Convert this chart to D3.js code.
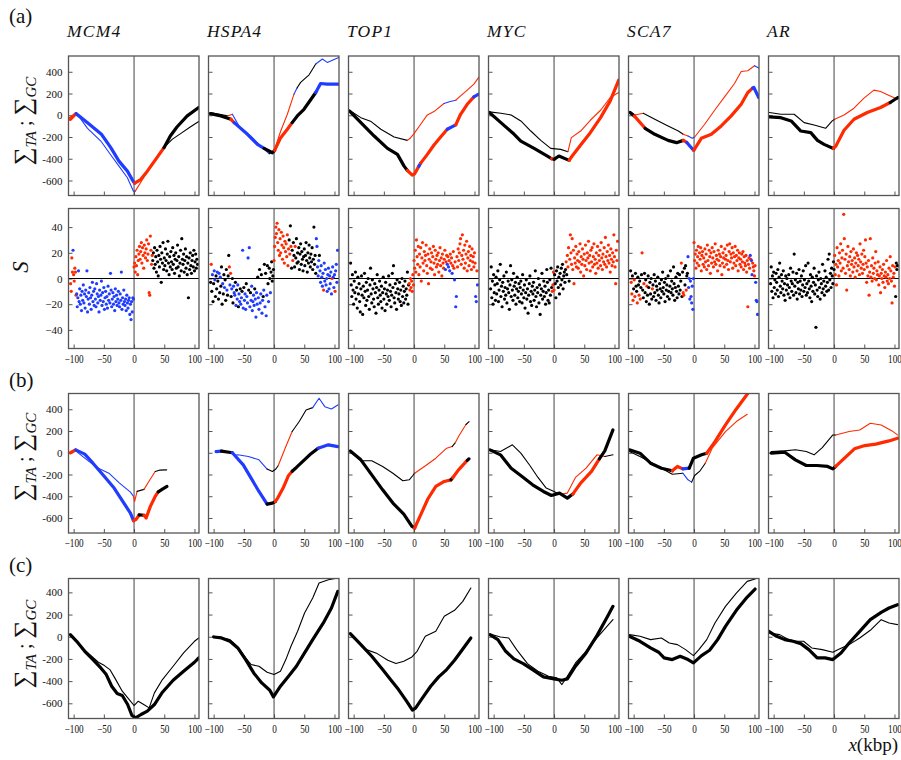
<!DOCTYPE html>
<html><head><meta charset="utf-8">
<script src="https://cdn.jsdelivr.net/npm/d3@7"></script>
<style>body{margin:0;background:#fff} svg text{font-family:"Liberation Serif","DejaVu Serif",serif}</style>
</head><body><svg id="c" width="901" height="760"></svg>
<script>
const genes = ["MCM4","HSPA4","TOP1","MYC","SCA7","AR"];
const rowTags = ["(a)","(b)","(c)"];
const xTicks = [-100,-50,0,50,100];
const xTickLabels = ["\u2212100","\u221250","0","50","100"];
const sumTicks = [-600,-400,-200,0,200,400];
const sumTickLabels = ["-600","-400","-200","0","200","400"];
const sTicks = [-40,-20,0,20,40];
const sTickLabels = ["\u221240","\u221220","0","20","40"];
const colorKeys = ["r","b","k"];
const colorVals = ["#ff2a00","#1f3cff","#000000"];

// ---------- (a) cumulative skews: [x kbp, value, class of following segment]
const a_MCM4_thick = [[-105.5,-37,"r"],[-96,15,"b"],[-77,-68,"b"],[-54,-175,"b"],[-38.5,-298,"b"],[-25,-422,"b"],[-11,-514,"b"],[-1,-612,"b"],[1,-625,"r"],[11,-591,"r"],[22,-514,"r"],[38.5,-385,"r"],[49.5,-298,"k"],[60,-191,"k"],[71,-108,"k"],[88,-6,"k"],[107,71,"k"]];
const a_MCM4_thin = [[-107,-22,"r"],[-96,25,"b"],[-77,-120,"b"],[-55,-237,"b"],[-38.5,-366,"b"],[-25,-468,"b"],[-11,-575,"b"],[-1,-698,"b"],[2,-698,"r"],[14,-591,"r"],[27,-468,"r"],[41,-360,"r"],[49.5,-298,"k"],[63,-222,"k"],[77,-169,"k"],[93,-108,"k"],[107,-58,"k"]];
const a_HSPA4_thick = [[-105.5,15,"k"],[-88,-6,"k"],[-71.4,-37,"r"],[-66,-68,"b"],[-44,-175,"b"],[-27.5,-268,"b"],[-16.5,-305,"k"],[-2.7,-345,"k"],[1,-323,"r"],[11,-206,"r"],[22,-129,"r"],[30,-68,"k"],[38.5,-6,"k"],[49.5,55,"k"],[60,138,"k"],[69,209,"b"],[77,292,"b"],[88,286,"b"],[107,286,"b"]];
const a_HSPA4_thin = [[-105.5,25,"k"],[-77,-6,"r"],[-69,9,"b"],[-55,-129,"b"],[-38.5,-191,"b"],[-22,-283,"b"],[-8,-354,"k"],[0,-329,"r"],[11,-145,"r"],[22,9,"r"],[33,194,"b"],[38,250,"k"],[44,302,"k"],[58,372,"k"],[69,471,"b"],[80,517,"b"],[88,486,"b"],[107,532,"b"]];
const a_TOP1_thick = [[-107,40,"k"],[-88,-68,"k"],[-66,-191,"k"],[-44,-305,"k"],[-27.5,-360,"k"],[-16.5,-468,"k"],[-11,-508,"r"],[-3,-551,"r"],[1,-538,"r"],[8,-468,"b"],[11,-440,"r"],[22,-360,"r"],[33,-274,"r"],[44,-200,"r"],[55,-129,"b"],[69,-89,"r"],[77,9,"r"],[88,101,"r"],[99,169,"b"],[107,194,"b"]];
const a_TOP1_thin = [[-107,46,"k"],[-88,-22,"k"],[-71,-58,"k"],[-55,-129,"k"],[-33,-200,"k"],[-11,-231,"r"],[-6.6,-212,"r"],[0,-169,"r"],[11,-83,"r"],[22,3,"r"],[33,34,"r"],[49.5,108,"b"],[60,126,"b"],[69,138,"r"],[77,178,"r"],[88,231,"r"],[99,286,"r"],[107,348,"r"]];
const a_MYC_thick = [[-107,25,"k"],[-88,-68,"k"],[-66,-175,"k"],[-55,-237,"k"],[-33,-305,"k"],[-11,-375,"k"],[-4,-400,"r"],[0,-406,"k"],[8,-375,"k"],[25,-415,"r"],[30,-375,"r"],[44,-274,"r"],[60,-160,"r"],[77,-22,"r"],[93,132,"r"],[107,323,"r"]];
const a_MYC_thin = [[-107,31,"k"],[-88,18,"k"],[-71,3,"k"],[-55,-52,"k"],[-38.5,-145,"k"],[-22,-231,"k"],[-5.5,-305,"k"],[11,-314,"k"],[23,-335,"r"],[28.6,-206,"r"],[44,-145,"r"],[60,-46,"r"],[77,46,"r"],[93,163,"r"],[107,209,"r"]];
const a_SCA7_thick = [[-106,25,"k"],[-99,-6,"r"],[-81,-120,"k"],[-65,-175,"k"],[-43,-231,"k"],[-29,-252,"k"],[-18,-231,"r"],[-12,-250,"b"],[-7,-283,"b"],[-0.5,-323,"r"],[12,-212,"r"],[28.6,-175,"r"],[45,-98,"r"],[61.5,-6,"r"],[78,101,"r"],[89,209,"r"],[97,250,"b"],[99,255,"b"],[107,163,"b"]];
const a_SCA7_thin = [[-106,34,"k"],[-98,3,"r"],[-84,18,"k"],[-65,-37,"k"],[-43,-98,"k"],[-26,-145,"k"],[-18,-175,"r"],[-10,-191,"b"],[-3,-212,"b"],[1,-200,"r"],[17.6,-83,"r"],[34,46,"r"],[50.5,169,"r"],[67,292,"r"],[78,403,"r"],[89,409,"r"],[100,455,"b"],[107,434,"b"]];
const a_AR_thick = [[-107,-15,"k"],[-88,-22,"k"],[-71,-52,"k"],[-55,-145,"k"],[-38.5,-160,"k"],[-27.5,-231,"k"],[-16.5,-268,"k"],[-1,-305,"r"],[3,-283,"r"],[16.5,-138,"r"],[33,-37,"r"],[55,25,"r"],[77,71,"r"],[93,117,"k"],[105.5,163,"k"]];
const a_AR_thin = [[-107,25,"k"],[-88,9,"k"],[-66,9,"k"],[-49.5,-68,"k"],[-33,-89,"k"],[-14,-120,"k"],[-3,-52,"k"],[1,-37,"r"],[16.5,3,"r"],[33,65,"r"],[49.5,157,"r"],[66,231,"r"],[77,218,"r"],[93,178,"r"],[105.5,148,"k"]];

// ---------- (a) skew S in 1-kbp windows, first window at x = -105
const sFirstWindow = -105;
const s_MCM4 = [-4,-10,16,5,22,3,-2,8,5,-13, -12,-22,-15,6,-18,-8,-20,-13,-25,-10, -17,-5,-19,-12,-23,-9,-14,6,-26,-16, -11,-20,-7,-15,-24,-13,-3,-18,-10,-21, -8,-16,-22,-4,-12,-19,-14,-26,-9,-17, -13,-2,-21,-11,-18,-7,-24,-15,-10,-20, -14,-23,-6,-17,-12,-19,4,-9,-22,-16, -11,-20,-14,-25,-8,-18,-13,-21,-16,-10, -19,-22,-12,-17,5,-24,-15,-20,-9,-18, -21,-16,-25,-13,-19,-23,-17,-15,-28,-20, -32,-18,-26,-15,-16,
 9,12,5,17,10,22,3,14,19,25, 15,21,28,12,24,18,8,26,20,16, 23,30,14,19,27,-11,-13,33,22,11,18,
 14,20,8,24,11,17,5,22,13,2, 18,9,25,15,-3,20,12,28,7,16, 10,23,14,6,19,29,12,3,17,9, 21,13,7,24,11,18,4,15,20,8, 14,26,9,17,2,12,22,6,31,15, 11,19,5,14,23,8,17,3,12,-15, 16,7,20,10,4,14,18,9,22,6, 13,19,8,15,11];
const c_MCM4 = "rrrrbrrrrr" + "b".repeat(95) + "r".repeat(31) + "k".repeat(75);
const s_HSPA4 = [-3,11,-10,3,-18,-4,6,-1,-14,2, -8,5,-2,-16,4,-11,1,-6,9,-20, -4,-12,3,-7,-1,-17,7,-9,-13,2, 18,9,-5,4,-14,-8,0,-19,-6,-11, -13,-3,-21,-9,-16,-5,-22,-12,-18,-8, -20,-15,-10,22,-23,-7,-17,-12,-24,-4, -14,-19,16,-9,24,-22,-11,-17,-6,-25, -18,-13,-21,-8,-16,-30,-11,-20,1,-15, -24,7,-19,-12,3,-27,-17,-14,-9,11, -22,4,-29,-13,10,-4,-18,8,0,-11, 5,13,-2,2,7,
 14,25,32,40,35,43,28,22,38,18, 31,20,36,26,15,33,24,12,29,21, 27,17,34,10,23,30,19,41,25,8, 22,14,28,18,9,25,16,31,12,20, 13,24,7,19,27,11,21,15,6,17, 23,10,18,28,14,5,20,12,26,16, 9,19,13,24,7,15,40,11,18,4, 31,25,9,2,14,18,6,-3,10,1, -6,4,-9,12,-2,7,-5,0,-10,3, 8,-8,2,-4,5,-12,0,9,1,-7, 3,-10,6,11,-3,22];
const c_HSPA4 = "krkbkkbbkk"+"kbkkbkbkkk"+"bkkbkkkbkk"+"krbrkbkkbb"+"bkbkbbkbbk"+"bbkbbkbbbk"+"bbbkbbkbbb"+"bbbkbbbbkb"+"bkbbkbbkbk"+"bkbbkkbkkb"+"kkkkk"
 + "r".repeat(20)+"rrrrrkrkrk"+"krkkkrkkkk"+"k".repeat(30)+"bbbbbkbbbb"+"bbrbbbbbbb"+"bbbbbbrbbb"+"brbbbb";
const s_TOP1 = [12,-5,-14,3,-9,-20,-2,-11,5,-16, -7,-23,1,-12,-4,-18,-26,-8,2,-13, -28,-6,-15,4,-10,-21,-3,-17,-9,0, -14,-24,-5,8,-12,-19,-1,-8,-16,-22, -4,-11,-27,-7,3,-15,-20,-9,-2,-13, -18,-6,-23,-11,1,-16,-8,-25,-3,-12, -20,-9,-14,2,-17,-5,-10,-22,-13,4, -7,10,-15,-19,-4,-11,-24,-1,-8,-16, -12,-3,-18,-9,-21,0,-14,-6,-19,-10, -2,-16,-8,-13,5,-20,-5,-4,-9,0, -7,-2,-10,3,-5,
 14,8,22,5,30,17,11,25,3,19, 9,24,-2,16,28,12,6,21,14,18, 26,10,4,19,-4,15,23,8,13,20, 7,17,25,12,3,22,15,9,18,11, 20,5,14,24,10,16,2,19,12,8, 15,22,7,13,18,11,17,9,14,6, 19,12,16,4,10,21,8,-1,13,-22, -14,17,9,23,14,20,27,31,11,18, 34,15,22,8,26,12,19,29,6,16, 21,10,25,14,18,7,23,13,17,9, 20,12,-14,-18,6,-5];
const c_TOP1 = "k".repeat(97)+"r".repeat(8)+"r".repeat(50)+"rrbrrbrbrb"+"rrrbrrrbrb"+"brrrrrrrrr"+"r".repeat(20)+"rrbbrb";
const s_MYC = [-8,9,-15,-2,-20,3,-11,-5,-17,1, -12,-4,6,-18,-9,-1,11,-14,-6,-22, -3,-10,2,-16,-7,-13,5,-19,-8,-2, -11,-24,-5,10,-14,-1,-9,-17,4,-6, -13,-3,-20,-8,1,-15,-10,-4,-18,-7, -2,-12,-19,3,-9,-15,-5,-23,-11,-1, -16,-8,-27,-13,-4,2,-18,-10,-21,-6, -12,-3,-17,-9,6,-14,-22,-7,-11,0, -19,-5,-28,-13,-8,4,-16,-10,-2,-14, -6,-20,-11,7,-3,-17,-9,-19,-1,-13, 8,-7,-10,-5,5,
 -9,3,-4,-15,6,-2,9,-7,1,-12, 4,-5,8,-1,11,-8,2,5,-3,7, 13,3,18,9,24,-2,15,34,20,11, 31,7,22,-4,16,12,25,9,19,14, 8,21,13,27,5,17,11,23,15,2, 19,10,26,14,7,20,16,29,12,18, 6,22,13,24,9,17,27,11,15,4, 20,12,25,8,18,14,22,10,28,16, 7,19,13,24,11,32,17,9,21,14, 26,12,18,5,23,15,10,20,13,34, 17,9,-4,22,14,29];
const c_MYC = "k".repeat(102)+"rrr"+"rkkkkkkkkk"+"k".repeat(10)+"rkrrrkrrrr"+"r".repeat(76);
const s_SCA7 = [6,-3,-12,2,-17,-8,-1,-14,4,-6, -10,-19,1,-5,-13,-2,-16,-7,3,20, -9,-15,-4,4,-11,-1,-18,-6,-13,2, -7,-20,-3,-12,0,-16,-8,-5,-14,3, -11,-2,-17,-6,-9,1,-13,-19,-4,-8, -15,-1,-10,5,-7,-12,-3,-18,0,-9, -5,-14,2,-10,-16,-6,6,-11,-2,-8, -13,9,-4,-17,-7,1,-10,-15,4,-6, -12,3,-9,-2,12,-14,5,-11,-13,8, -5,10,-9,2,4,17,-7,0,-16,-2, -14,-19,-6,-24,0,
 28,14,19,8,22,12,17,25,10,20, 15,24,6,18,21,11,16,9,23,13, 19,7,26,14,10,22,17,4,20,12, 24,16,9,21,13,27,11,18,15,6, 22,14,19,10,17,25,3,12,20,16, 9,23,15,18,11,26,14,7,21,27, 13,19,16,24,8,20,12,17,25,10, 18,14,22,6,16,20,11,15,9,19, 13,21,7,17,12,10,18,5,14,-22, 11,16,8,18,15,14,3,12,9,6, 2,10,-3,-17,-18,-28];
const c_SCA7 = "krrkrkrrkk"+"krkkrkrkkr"+"kkrkkkkrkk"+"kkkkkkrkkk"+"k".repeat(40)+"kkkkrkkrrk"+"kkrkkbbbbb"+"bbbbb"+"r".repeat(90)+"rrrbrbbrrr"+"rrbbbb";
const s_AR = [-4,9,-10,2,-15,5,-7,-1,-12,4, -3,-9,7,-14,1,12,-6,-11,3,-2, -8,6,-13,-4,-17,2,-9,0,-5,-12, 3,-7,-15,8,-2,-10,-4,5,-13,19, -6,-1,-11,4,-16,-3,-8,7,-12,-2, -9,2,-14,-5,6,-10,-1,-7,10,-13, -4,-11,12,-2,-8,-15,3,-6,-18,1, -10,-3,8,-12,-5,-38,2,-9,-14,-1, 5,-7,-16,0,-4,-11,11,-8,-2,-13, 6,-6,1,-10,-3,15,-9,19,-1,4, -7,8,2,-4,13,
 7,18,3,11,-5,24,9,14,2,20, 12,27,6,16,22,8,50,31,15,4, 19,-9,10,25,13,7,17,2,21,11, 14,5,23,9,16,1,12,20,6,18, 10,15,3,27,13,8,19,4,11,22, 7,17,30,12,-3,9,2,14,-13,5, 31,1,10,-2,16,4,8,0,12,21, -1,6,3,13,-5,2,9,-11,4,0, 7,-3,11,2,-7,5,1,14,-2,3, -4,8,0,17,6,-2,-19,10,1,4, -6,9,-14,12,7,10];
const c_AR = "k".repeat(105)+"krrrrrrrrr"+"r".repeat(90)+"rrkkkk";

// ---------- (b)
const b_MCM4_thick = [[-105.5,0,"r"],[-96.6,27,"b"],[-81.6,-13,"b"],[-68,-96,"b"],[-50.5,-209,"b"],[-33,-325,"b"],[-19.5,-441,"b"],[-6,-555,"b"],[-1,-625,"r"],[3,-615,"r"],[8.5,-572,"k"],[16.5,-575,"r"],[20,-600,"r"],[27,-493,"r"],[35,-402,"r"],[40,-360,"k"],[47,-335,"k"],[54.5,-310,"k"]];
const b_MCM4_thin = [[-105.5,-4,"b"],[-96.6,17,"b"],[-77,-70,"b"],[-59,-142,"b"],[-41.7,-188,"b"],[-24,-279,"b"],[-6,-362,"b"],[-1,-400,"r"],[1,-447,"r"],[5,-355,"k"],[16.5,-337,"r"],[26,-250,"r"],[35,-172,"k"],[42,-160,"k"],[54,-157,"k"]];
const b_HSPA4_thick = [[-96,11,"b"],[-87,15,"k"],[-69,0,"b"],[-51,-111,"b"],[-38,-233,"b"],[-25,-356,"b"],[-11.5,-472,"k"],[-2.7,-463,"k"],[2,-450,"r"],[6,-417,"r"],[15,-325,"r"],[24,-209,"r"],[30,-170,"k"],[37,-135,"k"],[59,-19,"k"],[73,42,"b"],[90,73,"b"],[105.5,57,"b"]];
const b_HSPA4_thin = [[-96,17,"b"],[-78,11,"b"],[-72,5,"r"],[-65,-25,"b"],[-60,-19,"b"],[-42.5,-35,"b"],[-25,-65,"b"],[-11.5,-150,"k"],[-2.7,-172,"k"],[3,-150,"k"],[7,-117,"r"],[19.5,57,"r"],[30,195,"k"],[41.7,287,"k"],[53,394,"k"],[64,415,"b"],[74.5,501,"b"],[84,424,"b"],[95,403,"b"],[105.5,440,"b"]];
const b_TOP1_thick = [[-105.5,17,"k"],[-88,-65,"k"],[-70,-203,"k"],[-52,-341,"k"],[-35,-463,"k"],[-17,-564,"k"],[-3.5,-677,"k"],[1,-692,"r"],[11.5,-564,"r"],[23,-423,"r"],[36,-310,"r"],[50,-264,"r"],[61,-249,"k"],[64,-230,"r"],[73.6,-157,"r"],[88,-70,"k"],[91,-56,"k"]];
const b_TOP1_thin = [[-105.5,11,"k"],[-88,-74,"k"],[-70,-74,"k"],[-52,-126,"k"],[-35,-188,"k"],[-18.6,-258,"k"],[-8,-249,"k"],[-2,-209,"k"],[1,-188,"r"],[19.5,-117,"r"],[36,-50,"r"],[54,42,"r"],[63,57,"k"],[68,90,"r"],[73.6,149,"r"],[82,226,"r"],[86,260,"k"],[91,287,"k"]];
const b_MYC_thick = [[-106,27,"k"],[-88.7,-19,"k"],[-71,-142,"k"],[-53,-218,"k"],[-35.5,-295,"k"],[-17.7,-356,"k"],[-4.4,-393,"k"],[9,-371,"k"],[22,-417,"k"],[31,-380,"r"],[44,-279,"r"],[62,-172,"r"],[75,-56,"k"],[84,17,"k"],[97.5,210,"k"]];
const b_MYC_thin = [[-106,27,"k"],[-88.7,11,"k"],[-69,73,"k"],[-55,-4,"k"],[-40,-117,"k"],[-26.6,-227,"k"],[-13,-325,"k"],[0,-356,"k"],[5,-370,"r"],[13,-380,"r"],[22,-371,"r"],[35.5,-227,"r"],[53,-142,"r"],[71,-19,"r"],[84,-35,"k"],[97.5,-19,"k"]];
const b_SCA7_thick = [[-107,27,"k"],[-89.5,-4,"k"],[-72,-96,"k"],[-54,-142,"k"],[-36,-166,"r"],[-27.5,-126,"r"],[-18.6,-148,"b"],[-8,-142,"k"],[-1,-50,"k"],[12.4,-19,"k"],[21,-4,"r"],[34.6,103,"r"],[52,256,"r"],[70,403,"r"],[88,538,"r"],[96,600,"r"]];
const b_SCA7_thin = [[-107,11,"k"],[-89.5,-35,"k"],[-72,-87,"k"],[-54,-142,"k"],[-36,-197,"k"],[-18.6,-188,"b"],[-10,-249,"b"],[-4,-270,"k"],[1,-209,"k"],[10,-166,"k"],[18.6,-96,"r"],[30,42,"r"],[52,195,"r"],[70,287,"r"],[88,354,"r"]];
const b_AR_thick = [[-104,-4,"k"],[-81.6,5,"k"],[-64,-65,"k"],[-46,-117,"k"],[-28,-117,"k"],[-10.6,-126,"k"],[-2,-148,"k"],[2.7,-126,"r"],[16,-56,"r"],[33.7,36,"r"],[51,66,"r"],[69,79,"r"],[91,109,"r"],[105,134,"r"]];
const b_AR_thin = [[-104,11,"k"],[-81.6,17,"k"],[-64,27,"k"],[-46,11,"k"],[-33,-19,"k"],[-19.5,48,"k"],[-2,164,"k"],[2.7,164,"r"],[25,195,"r"],[42.5,210,"r"],[60,271,"r"],[78,256,"r"],[96,201,"r"],[105,164,"r"]];

// ---------- (c)
const c_MCM4_thick = [[-105.5,19],[-95,-41],[-81.6,-131],[-68,-206],[-55,-281],[-46,-341],[-37,-446],[-28,-512],[-19.5,-530],[-10.6,-611],[-3.5,-710],[2.7,-731],[11.5,-701],[22,-671],[33.7,-611],[47,-500],[64.7,-392],[82,-311],[100,-230],[107,-191]];
const c_MCM4_thin = [[-105.5,19],[-81.6,-122],[-59,-230],[-49,-260],[-40,-296],[-31,-380],[-19.5,-491],[-8,-566],[0,-620],[7,-581],[16,-611],[25,-641],[33.7,-506],[47,-386],[64.7,-266],[82,-146],[100,-41],[107,-11]];
const c_HSPA4_thick = [[-100,-2],[-87,-11],[-73,-41],[-60,-101],[-47,-206],[-33.7,-326],[-20.4,-416],[-7,-482],[-1,-542],[10.6,-446],[24,-356],[37,-266],[50.5,-146],[64,-26],[81.6,124],[95,259],[105.5,409]];
const c_HSPA4_thin = [[-100,4],[-73,-26],[-60,-92],[-47,-191],[-38,-251],[-25,-266],[-11.5,-320],[0,-341],[10.6,-311],[19.5,-206],[28,-86],[39,49],[50.5,214],[64,349],[74.5,484],[90,514],[105.5,529]];
const c_TOP1_thick = [[-105.5,28],[-88,-71],[-70,-176],[-52,-296],[-39,-386],[-25.7,-476],[-12.4,-581],[-2.7,-662],[2.7,-641],[14,-551],[27.5,-446],[40.8,-362],[54,-296],[67,-212],[80.7,-110],[94,-11]];
const c_TOP1_thin = [[-105.5,34],[-92,-56],[-79,-116],[-61,-152],[-43.4,-212],[-30,-242],[-17,-221],[-3.5,-182],[5,-131],[18.6,4],[36,49],[50,184],[67,238],[80.7,319],[94,439]];
const c_MYC_thick = [[-106,19],[-93,-26],[-80,-131],[-66.5,-200],[-51,-242],[-35.5,-296],[-17.7,-362],[0,-380],[13,-392],[22,-380],[35.5,-266],[53,-146],[71,10],[88.7,184],[97.5,274]];
const c_MYC_thin = [[-106,25],[-88.7,-2],[-75,-11],[-62,-116],[-44,-242],[-26.6,-311],[-9,-356],[4.4,-371],[13,-431],[22,-356],[35.5,-236],[53,-131],[71,-11],[88.7,100],[97.5,154]];
const c_SCA7_thick = [[-107,4],[-89.5,-41],[-72,-101],[-58.5,-140],[-49.6,-191],[-36,-206],[-23,-176],[-10,-206],[-1,-236],[12.4,-170],[25.7,-122],[39,-26],[52,94],[70,238],[88,358],[101,430]];
const c_SCA7_thin = [[-107,19],[-89.5,4],[-72,-26],[-54,-11],[-41,-56],[-27.5,-71],[-14,-116],[-1,-170],[8,-116],[21,-26],[34.6,124],[52,274],[70,394],[88,499],[101,520]];
const c_AR_thick = [[-108,49],[-95,4],[-81.6,-26],[-68,-41],[-55,-62],[-41.7,-116],[-28,-191],[-15,-191],[-2,-206],[11.5,-146],[25,-56],[42.5,49],[60,154],[78,220],[91,259],[105,289]];
const c_AR_thin = [[-108,34],[-90,19],[-77,-20],[-64,-41],[-50.5,-41],[-37,-101],[-19.5,-116],[-2,-140],[7,-116],[25,-71],[42.5,-11],[60,58],[78,154],[91,124],[105,109]];

// ---------- drawing
const svg = d3.select("#c");
const color = d3.scaleOrdinal().domain(colorKeys).range(colorVals);
const xDomain = [-108.5, 107.5];
const serif = '"Liberation Serif", "DejaVu Serif", serif';

const curveRowA = [[a_MCM4_thick,a_MCM4_thin],[a_HSPA4_thick,a_HSPA4_thin],[a_TOP1_thick,a_TOP1_thin],[a_MYC_thick,a_MYC_thin],[a_SCA7_thick,a_SCA7_thin],[a_AR_thick,a_AR_thin]];
const scatterRow = [[s_MCM4,c_MCM4],[s_HSPA4,c_HSPA4],[s_TOP1,c_TOP1],[s_MYC,c_MYC],[s_SCA7,c_SCA7],[s_AR,c_AR]];
const curveRowB = [[b_MCM4_thick,b_MCM4_thin],[b_HSPA4_thick,b_HSPA4_thin],[b_TOP1_thick,b_TOP1_thin],[b_MYC_thick,b_MYC_thin],[b_SCA7_thick,b_SCA7_thin],[b_AR_thick,b_AR_thin]];
const curveRowC = [[c_MCM4_thick,c_MCM4_thin],[c_HSPA4_thick,c_HSPA4_thin],[c_TOP1_thick,c_TOP1_thin],[c_MYC_thick,c_MYC_thin],[c_SCA7_thick,c_SCA7_thin],[c_AR_thick,c_AR_thin]];

const rows = [
  {top:56,    h:139.5, dom:[-738,545], kind:"curve",   data:curveRowA, ticks:sumTicks, tl:sumTickLabels, xlab:false},
  {top:208.5, h:140,   dom:[-54.5,54.5], kind:"scatter", data:scatterRow, ticks:sTicks, tl:sTickLabels, xlab:true},
  {top:393.5, h:139.5, dom:[-738,545], kind:"curve",   data:curveRowB, ticks:sumTicks, tl:sumTickLabels, xlab:true},
  {top:578.5, h:140,   dom:[-737,525], kind:"curve",   data:curveRowC, ticks:sumTicks, tl:sumTickLabels, xlab:true}
];

function drawCurve(g, pts, x, y, width) {
  let i = 0;
  while (i < pts.length - 1) {
    const cls = pts[i][2] || "k";
    let j = i;
    while (j < pts.length - 1 && (pts[j][2] || "k") === cls) j++;
    const seg = pts.slice(i, j + 1);
    g.append("path")
      .attr("d", d3.line().x(d => x(d[0])).y(d => y(d[1]))(seg))
      .attr("fill", "none").attr("stroke", color(cls))
      .attr("stroke-width", width).attr("stroke-linejoin", "round").attr("stroke-linecap", "round");
    i = j;
  }
}

rows.forEach((row, r) => {
  genes.forEach((gene, c) => {
    const left = 68.5 + 140 * c, w = 130.5;
    const x = d3.scaleLinear().domain(xDomain).range([left, left + w]);
    const y = d3.scaleLinear().domain(row.dom).range([row.top + row.h, row.top]);
    const g = svg.append("g");
    const clipId = "clip" + r + "_" + c;
    g.append("clipPath").attr("id", clipId).append("rect")
      .attr("x", left).attr("y", row.top).attr("width", w).attr("height", row.h);

    const ax = d3.axisBottom(x).tickValues(xTicks).tickSizeInner(-4).tickSizeOuter(0).tickPadding(6)
      .tickFormat((d, i) => row.xlab ? xTickLabels[i] : "");
    const axG = g.append("g").attr("transform", `translate(0,${row.top + row.h})`).call(ax);
    axG.attr("font-family", null);
    axG.select(".domain").remove();
    axG.selectAll("line").attr("stroke", "#555");
    axG.selectAll("text").style("font-family", serif).style("font-size", "11.5px").attr("fill", "#111")
      .attr("transform", "scale(0.8,1)").attr("dy", "0.7em");

    const ay = d3.axisLeft(y).tickValues(row.ticks).tickSizeInner(-4).tickSizeOuter(0).tickPadding(6)
      .tickFormat((d, i) => c === 0 ? row.tl[i] : "");
    const ayG = g.append("g").attr("transform", `translate(${left},0)`).call(ay);
    ayG.attr("font-family", null);
    ayG.select(".domain").remove();
    ayG.selectAll("line").attr("stroke", "#555");
    ayG.selectAll("text").style("font-family", serif).style("font-size", "11px").attr("fill", "#111");

    g.append("line").attr("x1", x(0)).attr("x2", x(0)).attr("y1", row.top).attr("y2", row.top + row.h)
      .attr("stroke", "#444").attr("stroke-width", 1);
    const plot = g.append("g").attr("clip-path", `url(#${clipId})`);
    if (row.kind === "scatter") {
      plot.append("line").attr("x1", left).attr("x2", left + w).attr("y1", y(0)).attr("y2", y(0))
        .attr("stroke", "#000").attr("stroke-width", 1);
      const [vals, cls] = row.data[c];
      plot.selectAll("circle").data(vals).join("circle")
        .attr("cx", (d, i) => x(sFirstWindow + i)).attr("cy", d => y(d)).attr("r", 1.6)
        .attr("fill", (d, i) => color(cls[i] || "k"));
    } else {
      const [thick, thin] = row.data[c];
      drawCurve(plot, thin, x, y, 1.1);
      drawCurve(plot, thick, x, y, 3.2);
    }
    g.append("rect").attr("x", left).attr("y", row.top).attr("width", w).attr("height", row.h)
      .attr("fill", "none").attr("stroke", "#555").attr("stroke-width", 1.3);
  });
});

genes.forEach((gene, c) => {
  svg.append("text").attr("x", 67 + 140 * c).attr("y", 37)
    .style("font-family", serif).style("font-style", "italic").style("font-size", "17.5px")
    .attr("letter-spacing", 1.2).attr("fill", "#111").text(gene);
});

[[23, 0], [387, 1], [572, 2]].forEach(([yy, k]) => {
  svg.append("text").attr("x", 9).attr("y", yy).style("font-family", serif)
    .style("font-size", "21px").attr("fill", "#111").text(rowTags[k]);
});

function sumLabel(cy) {
  const t = svg.append("text").attr("transform", `translate(31,${cy}) rotate(-90)`)
    .attr("text-anchor", "middle").style("font-family", serif).attr("fill", "#111");
  t.append("tspan").style("font-size", "25px").text("\u2211");
  t.append("tspan").style("font-size", "15px").style("font-style", "italic").attr("dy", 5).text("TA");
  t.append("tspan").style("font-size", "20px").attr("dy", -5).text(" ; ");
  t.append("tspan").style("font-size", "25px").text("\u2211");
  t.append("tspan").style("font-size", "15px").style("font-style", "italic").attr("dy", 5).text("GC");
}
sumLabel(121); sumLabel(457); sumLabel(644);
svg.append("text").attr("transform", "translate(28,267) rotate(-90)").attr("text-anchor", "middle")
  .style("font-family", serif).style("font-style", "italic").style("font-size", "23px").attr("fill", "#111").text("S");

const xl = svg.append("text").attr("x", 898).attr("y", 751).attr("text-anchor", "end")
  .style("font-family", serif).style("font-size", "19px").attr("fill", "#111");
xl.append("tspan").style("font-style", "italic").text("x");
xl.append("tspan").text("(kbp)");
</script>
</body></html>
